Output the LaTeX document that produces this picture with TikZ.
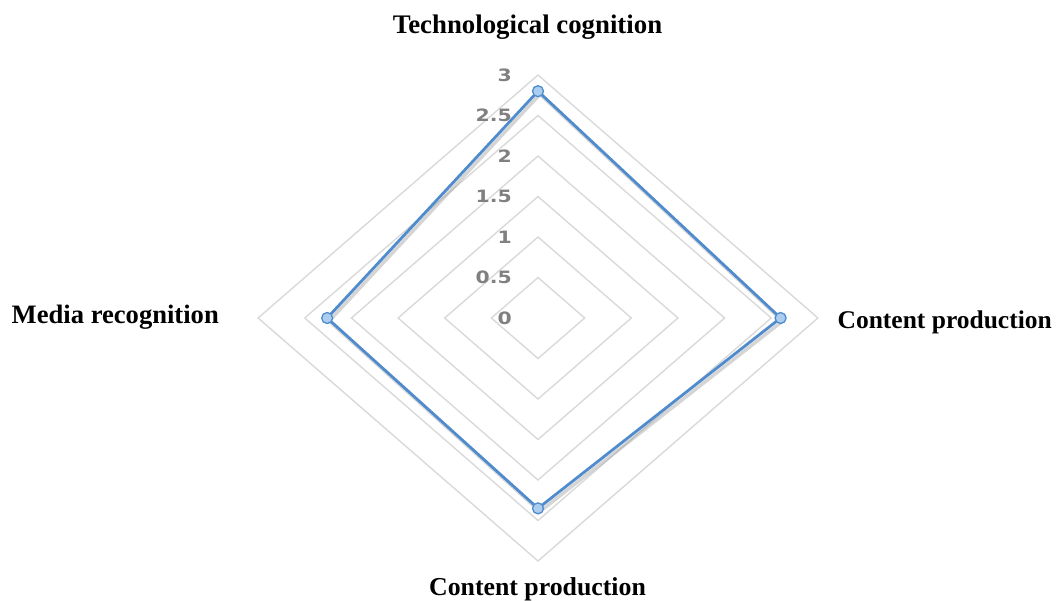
\documentclass[tikz,border=0pt]{standalone}
\usepackage{fontspec}
\setmainfont{Liberation Serif}
\newfontfamily\ticksfont{DejaVu Sans}
\usetikzlibrary{calc}
\definecolor{gridgray}{RGB}{217,217,217}
\definecolor{serieblue}{RGB}{80,140,205}
\definecolor{markfill}{RGB}{170,205,240}
\definecolor{tickgray}{RGB}{128,128,128}
\definecolor{shadowgray}{RGB}{150,150,150}
\begin{document}
\begin{tikzpicture}[x=1pt,y=-1pt,
  gridline/.style={draw=gridgray,line width=1.4pt,line join=miter},
  axislabel/.style={font=\fontsize{26.5}{30}\selectfont\bfseries,inner sep=0pt,anchor=base},
  ticklabel/.style={font=\ticksfont\bfseries\fontsize{17}{19}\selectfont,text=tickgray,inner sep=0pt,anchor=east,xscale=1.2},
  serie/.style={draw=serieblue,line width=2.8pt,line join=round},
  serieshadow/.style={draw=shadowgray,line width=3.5pt,line join=round,opacity=0.4},
  datamark/.style={circle,draw=serieblue,fill=markfill,line width=1.3pt,minimum size=11pt,inner sep=0pt}]
\useasboundingbox (0,0) rectangle (1059,600);
% chart centre and scale per unit on each axis
\def\cx{538}\def\cy{318}
\def\ux{93.3}\def\uy{81}
% grid: one diamond every 0.5
\foreach \v in {0.5,1,...,3}{
  \draw[gridline] (\cx,\cy-\v*\uy) -- (\cx+\v*\ux,\cy) -- (\cx,\cy+\v*\uy) -- (\cx-\v*\ux,\cy) -- cycle;
}
% tick values along the upper axis
\foreach \v/\t in {0/0,0.5/0.5,1/1,1.5/1.5,2/2,2.5/2.5,3/3}{
  \node[ticklabel] (tick\v) at (512,\cy-\v*\uy) {\t};
}
% data points
\coordinate (p1) at (\cx,\cy-2.8*\uy);
\coordinate (p2) at (\cx+2.6*\ux,\cy);
\coordinate (p3) at (\cx,\cy+2.35*\uy);
\coordinate (p4) at (\cx-2.26*\ux,\cy);
% shadow of the series
\draw[serieshadow] ([shift={(2,3)}]p1) -- ([shift={(2,3)}]p2) -- ([shift={(2,3)}]p3) -- ([shift={(2,3)}]p4) -- cycle;
% series line and markers
\draw[serie] (p1) -- (p2) -- (p3) -- (p4) -- cycle;
\foreach \i in {1,...,4}{
  \node[datamark] (m\i) at (p\i) {};
}
% axis captions
\node[axislabel,font=\fontsize{26.8}{30}\selectfont\bfseries] (techcog) at (527.5,33) {Technological cognition};
\node[axislabel,anchor=base west,font=\fontsize{26.6}{30}\selectfont\bfseries] (mediarec) at (11.5,323) {Media recognition};
\node[axislabel,anchor=base east,font=\fontsize{25.5}{30}\selectfont\bfseries] (contright) at (1052,328) {Content production};
\node[axislabel,font=\fontsize{25.8}{30}\selectfont\bfseries] (contbottom) at (537.5,595) {Content production};
\end{tikzpicture}
\end{document}
